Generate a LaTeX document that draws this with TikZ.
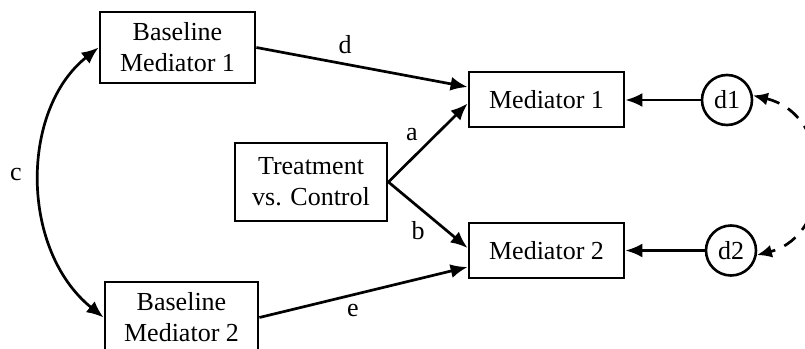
\documentclass[tikz,border=0pt]{standalone}
\usepackage{fontspec}
\setmainfont{Liberation Serif}
\usetikzlibrary{arrows.meta}
\begin{document}
\begin{tikzpicture}[x=1pt,y=-1pt,
  box/.style={draw, line width=2.8pt, inner sep=0pt, align=center, font=\fontsize{26}{31}\selectfont},
  err/.style={draw, circle, line width=2.6pt, inner sep=0pt, minimum size=50pt, font=\fontsize{26}{31}\selectfont},
  arr/.style={line width=2.7pt, -{Latex[length=17pt,width=14pt]}},
  arrb/.style={line width=2.7pt, {Latex[length=17pt,width=14pt]}-{Latex[length=17pt,width=14pt]}},
  arrd/.style={line width=2.7pt, dash pattern=on 14pt off 10pt, {Latex[length=15pt,width=13pt]}-{Latex[length=15pt,width=13pt]}},
  lab/.style={font=\fontsize{26}{31}\selectfont, inner sep=0pt}]
\useasboundingbox (0,0) rectangle (805,348);
\clip (0,0) rectangle (805,348);
\fill[white] (0,0) rectangle (805,348);
\node[box, minimum width=155pt, minimum height=71pt] (bm1) at (177.5,47.5) {Baseline\\Mediator 1};
\node[box, minimum width=153pt, minimum height=71pt] (bm2) at (181.5,317.5) {Baseline\\Mediator 2};
\node[box, minimum width=152pt, minimum height=78pt] (trt) at (311,182) {Treatment\\vs. Control};
\node[box, minimum width=155pt, minimum height=55pt] (m1) at (546.5,99.5) {Mediator 1};
\node[box, minimum width=155pt, minimum height=55pt] (m2) at (546.5,250.5) {Mediator 2};
\node[err] (d1) at (727,100) {d1};
\node[err] (d2) at (731,250.5) {d2};
\draw[arr] (bm1.east) -- ([yshift=12.5pt]m1.west);
\draw[arr] (trt.east) -- ([yshift=-4pt]m1.west);
\draw[arr] (trt.east) -- ([yshift=2.5pt]m2.west);
\draw[arr] (bm2.east) -- ([yshift=-16.5pt]m2.west);
\draw[arr] (d1.west) -- (d1.west -| m1.east);
\draw[arr] (d2.west) -- (d2.west -| m2.east);
\draw[arrb] (bm1.west) .. controls (20,110) and (20,250) .. (bm2.west);
\draw[arrd] (d1.10) .. controls (835,115) and (835,235) .. (d2.-10);
\node[lab] (la) at (412,135) {a};
\node[lab] (lb) at (418,231) {b};
\node[lab] (lc) at (16,174) {c};
\node[lab] (ld) at (345,45) {d};
\node[lab] (le) at (353,310) {e};
\end{tikzpicture}
\end{document}
